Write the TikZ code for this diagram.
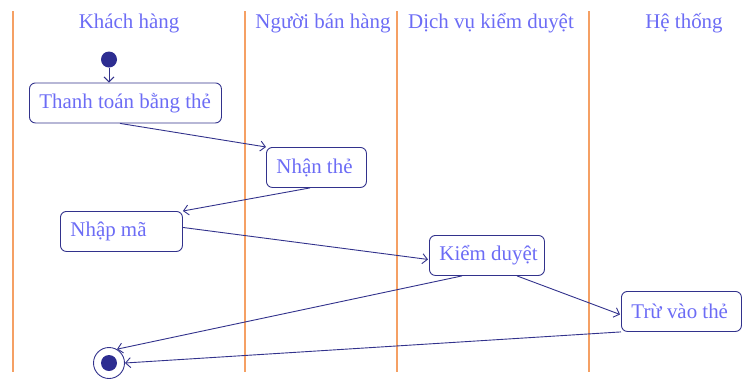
\documentclass[tikz,border=0pt]{standalone}
\usepackage{fontspec}
\setmainfont{Liberation Serif}
\usetikzlibrary{arrows.meta,calc}
\definecolor{txtc}{RGB}{108,108,245}
\definecolor{boxc}{RGB}{50,50,140}
\definecolor{lanec}{RGB}{245,160,100}
\definecolor{dotc}{RGB}{45,45,145}
\newcommand{\actlabel}[2]{\makebox[#1][l]{\hspace{10bp}#2}}
\tikzset{
  lane/.style={draw=lanec,line width=1.2bp},
  hdr/.style={text=txtc,font=\fontsize{21}{25}\selectfont,inner sep=0pt},
  act/.style={draw=boxc,line width=0.9bp,rounded corners=6bp,text=txtc,
    font=\fontsize{21}{25}\selectfont,anchor=north west,
    inner xsep=0pt,inner ysep=0pt,minimum height=40bp},
  flow/.style={draw=boxc,line width=0.9bp,-{Straight Barb[length=5bp,width=10bp]}},
}
\begin{document}
\begin{tikzpicture}[x=1bp,y=-1bp]
\useasboundingbox (0,0) rectangle (755,379);
% swimlane lines
\foreach \xx/\nm in {13/l1,245/l2,397/l3,589/l4}{
  \coordinate (\nm t) at (\xx,11);
  \coordinate (\nm b) at (\xx,372);
  \draw[lane] (\nm t) -- (\nm b);
}
% headers
\node[hdr] (h1) at (129,23) {Khách hàng};
\node[hdr] (h2) at (323,23) {Người bán hàng};
\node[hdr] (h3) at (491,23) {Dịch vụ kiểm duyệt};
\node[hdr] (h4) at (684,23) {Hệ thống};
% start
\node[circle,fill=dotc,inner sep=0pt,minimum size=16bp] (s) at (109,59.5) {};
% activities
\node[act] (b1) at (29,82.5) {\actlabel{192bp}{Thanh toán bằng thẻ}};
\node[act] (b2) at (266,147) {\actlabel{100bp}{Nhận thẻ}};
\node[act] (b3) at (60,211) {\actlabel{122bp}{Nhập mã}};
\node[act] (b4) at (429,235) {\actlabel{115bp}{Kiểm duyệt}};
\node[act] (b5) at (621,291) {\actlabel{120bp}{Trừ vào thẻ}};
% end
\node[circle,draw=boxc,line width=0.9bp,inner sep=0pt,minimum size=31bp] (e) at (109,363) {};
\node[circle,fill=dotc,inner sep=0pt,minimum size=16bp] (ei) at (e.center) {};
% flows
\draw[flow] (s.south) -- (s.south |- b1.north);
\draw[flow] ($(b1.south west)+(91,0)$) -- (b2.north west);
\draw[flow] ($(b2.south west)+(44,0)$) -- (b3.north east);
\draw[flow] ($(b3.east)+(0,-4)$) -- ($(b4.west)+(-1,4)$);
\draw[flow] ($(b4.south west)+(33,0)$) -- (e.60);
\draw[flow] ($(b4.south west)+(88,0)$) -- ($(b5.west)+(-1,3)$);
\draw[flow] (b5.south west) -- (e.east);
\end{tikzpicture}
\end{document}
